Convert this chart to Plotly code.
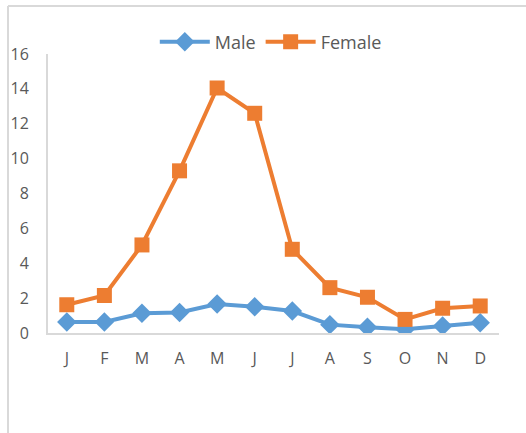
import plotly.graph_objects as go

months = ["J", "F", "M", "A", "M", "J", "J", "A", "S", "O", "N", "D"]
male = [0.63, 0.63, 1.13, 1.18, 1.66, 1.5, 1.26, 0.48, 0.33, 0.21, 0.4, 0.59]
female = [1.62, 2.15, 5.05, 9.3, 14.05, 12.6, 4.8, 2.6, 2.05, 0.78, 1.42, 1.55]

x = list(range(len(months)))

fig = go.Figure()
fig.add_trace(go.Scatter(
    x=x, y=male, name="Male", mode="lines+markers",
    line=dict(color="#5B9BD5", width=4),
    marker=dict(symbol="diamond", size=15, color="#5B9BD5"),
))
fig.add_trace(go.Scatter(
    x=x, y=female, name="Female", mode="lines+markers",
    line=dict(color="#ED7D31", width=4),
    marker=dict(symbol="square", size=15, color="#ED7D31"),
))

font_family = "Open Sans, Noto Sans, sans-serif"
fig.update_layout(
    width=526, height=433,
    margin=dict(l=48, r=27, t=54, b=100, autoexpand=False),
    paper_bgcolor="white", plot_bgcolor="white",
    font=dict(family=font_family, color="#595959", size=16),
    showlegend=True,
    legend=dict(orientation="h", x=0.494, xanchor="center", y=1.043, yanchor="middle",
                font=dict(size=18, color="#595959"), itemwidth=50, tracegroupgap=0),
)
fig.update_xaxes(
    tickmode="array", tickvals=x, ticktext=months,
    range=[-0.5, 11.5], showgrid=False, zeroline=False, automargin=False,
    showline=True, linecolor="#d9d9d9", linewidth=2,
    ticks="outside", ticklen=10, tickcolor="rgba(0,0,0,0)",
    tickfont=dict(size=16, color="#595959"),
)
fig.update_yaxes(
    range=[0, 16], dtick=2, showgrid=False, zeroline=False, automargin=False,
    showline=True, linecolor="#d9d9d9", linewidth=2,
    ticks="outside", ticklen=14, tickcolor="rgba(0,0,0,0)",
    tickfont=dict(size=16, color="#595959"),
)
# outer chart frame (top and left edges)
fig.add_shape(type="line", xref="paper", yref="paper",
              x0=-0.0887, x1=1.07, y0=1.172, y1=1.172,
              line=dict(color="#d9d9d9", width=2))
fig.add_shape(type="line", xref="paper", yref="paper",
              x0=-0.0887, x1=-0.0887, y0=1.172, y1=-0.37,
              line=dict(color="#d9d9d9", width=2))

fig.write_html("out.html")
